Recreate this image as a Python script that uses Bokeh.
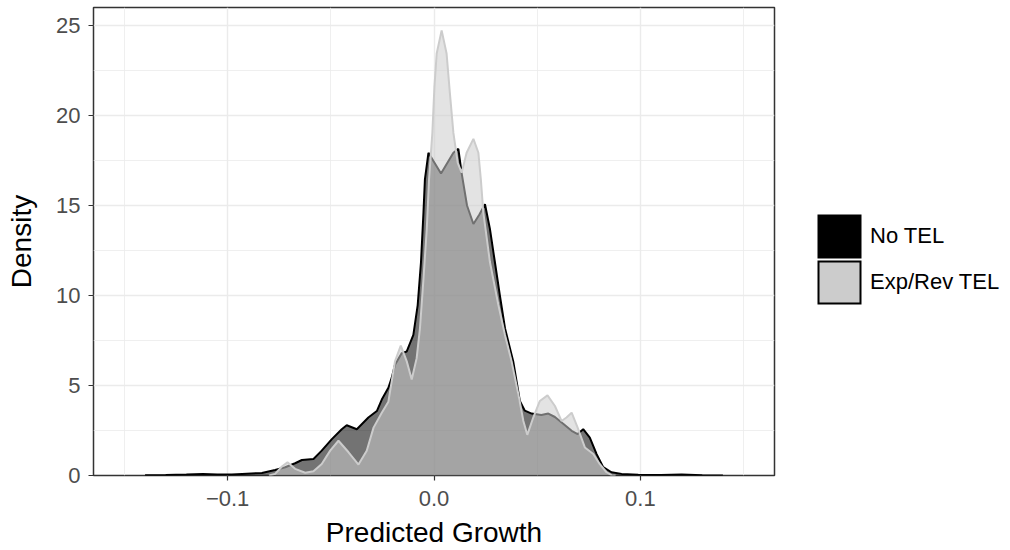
from bokeh.plotting import figure
from bokeh.models import Range1d, FixedTicker, Legend, LegendItem
from bokeh.layouts import row
from bokeh.embed import file_html
from bokeh.resources import INLINE

# ---- data ----
series_names = ["No TEL", "Exp/Rev TEL"]

no_tel_x = [-0.140, -0.130, -0.120, -0.112, -0.105, -0.098, -0.093, -0.0834, -0.077, -0.0721,
            -0.0673, -0.064, -0.0584, -0.0544, -0.0495, -0.0447, -0.0423, -0.0374, -0.0318, -0.0277,
            -0.0253, -0.0221, -0.0205, -0.0189, -0.0156, -0.0132, -0.0100, -0.0079, -0.0063, -0.0051,
            -0.0044, -0.0027, 0.0034, 0.0094, 0.0118, 0.0134, 0.0160, 0.0191, 0.0220, 0.0247,
            0.0271, 0.0295, 0.0319, 0.0344, 0.0384, 0.0416, 0.0440, 0.0473, 0.0520, 0.0554,
            0.0586, 0.0626, 0.0667, 0.0696, 0.0723, 0.0755, 0.0788, 0.0820, 0.0860, 0.0909,
            0.0990, 0.110, 0.120, 0.130, 0.140]
no_tel_y = [0.01, 0.03, 0.06, 0.09, 0.05, 0.06, 0.09, 0.14, 0.31, 0.46,
            0.68, 0.86, 0.92, 1.38, 2.02, 2.57, 2.79, 2.57, 3.22, 3.58,
            4.22, 4.87, 5.42, 6.16, 6.80, 6.89, 7.81, 9.47, 11.86, 14.62,
            16.45, 17.93, 16.78, 17.93, 18.15, 16.80, 15.00, 13.97, 14.50, 15.07,
            13.70, 11.86, 10.02, 8.18, 6.34, 4.14, 3.60, 3.44, 3.36, 3.44,
            3.25, 2.88, 2.48, 2.30, 2.57, 2.11, 1.19, 0.46, 0.18, 0.09,
            0.04, 0.03, 0.05, 0.02, 0.0]

exp_rev_x = [-0.080, -0.077, -0.0737, -0.0710, -0.0673, -0.0624, -0.0584, -0.0544, -0.0503, -0.0463,
             -0.0414, -0.0366, -0.0326, -0.0293, -0.0253, -0.0221, -0.0189, -0.0161, -0.0132, -0.0108,
             -0.0084, -0.0068, -0.0051, -0.0035, -0.0024, -0.0008, 0.0002, 0.0013, 0.0037, 0.0061,
             0.0077, 0.0094, 0.0115, 0.0134, 0.0158, 0.0191, 0.0215, 0.0227, 0.0239, 0.0271,
             0.0312, 0.0344, 0.0376, 0.0409, 0.0433, 0.0452, 0.0481, 0.0513, 0.0550, 0.0586,
             0.0618, 0.0642, 0.0667, 0.0696, 0.0731, 0.0772, 0.0803, 0.0836, 0.0860, 0.0880]
exp_rev_y = [0.0, 0.09, 0.50, 0.73, 0.37, 0.15, 0.24, 0.64, 1.38, 1.93,
             1.29, 0.61, 1.38, 2.66, 3.49, 4.10, 6.34, 7.22, 6.34, 5.33,
             6.52, 8.18, 10.94, 13.70, 16.45, 19.03, 21.60, 23.44, 24.73, 23.44,
             21.24, 19.03, 17.37, 16.82, 17.93, 18.70, 17.93, 16.45, 14.62, 11.86,
             9.47, 7.81, 6.34, 4.50, 3.03, 2.26, 3.22, 4.14, 4.45, 3.86,
             3.03, 3.22, 3.49, 2.66, 1.56, 1.19, 0.64, 0.18, 0.02, 0.0]

x_ticks = [-0.1, 0.0, 0.1]
x_tick_labels = ["\u22120.1", "0.0", "0.1"]
x_minor = [-0.15, -0.05, 0.05, 0.15]
y_ticks = [0, 5, 10, 15, 20, 25]
y_minor = [2.5, 7.5, 12.5, 17.5, 22.5]

FONT = "Liberation Sans"
NAN = float("nan")

p = figure(width=784, height=550, output_backend="svg", toolbar_location=None,
           x_range=Range1d(-0.165, 0.165), y_range=Range1d(0, 26),
           min_border_left=93, min_border_right=10, min_border_top=7, min_border_bottom=72)
p.background_fill_color = "white"
p.border_fill_color = "white"
p.outline_line_color = "#333333"
p.outline_line_width = 1.5

# axes
p.xaxis.ticker = FixedTicker(ticks=x_ticks, minor_ticks=x_minor)
p.yaxis.ticker = FixedTicker(ticks=y_ticks, minor_ticks=y_minor)
p.xaxis.major_label_overrides = {t: l for t, l in zip(x_ticks, x_tick_labels)}
p.yaxis.major_label_overrides = {t: str(t) for t in y_ticks}
for ax in (p.xaxis, p.yaxis):
    ax.axis_line_color = None
    ax.major_tick_line_color = "#333333"
    ax.major_tick_line_width = 1.2
    ax.major_tick_out = 5
    ax.major_tick_in = 0
    ax.minor_tick_line_color = None
    ax.major_label_text_font = FONT
    ax.major_label_text_font_size = "22px"
    ax.major_label_text_color = "#4D4D4D"
    ax.axis_label_text_font = FONT
    ax.axis_label_text_font_size = "28px"
    ax.axis_label_text_font_style = "normal"
    ax.axis_label_text_color = "black"
p.xaxis.axis_label = "Predicted Growth"
p.yaxis.axis_label = "Density"
p.xaxis.major_label_standoff = 10
p.yaxis.major_label_standoff = 8
p.xaxis.axis_label_standoff = 8
p.yaxis.axis_label_standoff = 16

# grid
p.xgrid.grid_line_color = "#EBEBEB"
p.ygrid.grid_line_color = "#EBEBEB"
p.xgrid.grid_line_width = 1.4
p.ygrid.grid_line_width = 1.4
p.xgrid.minor_grid_line_color = "#EBEBEB"
p.ygrid.minor_grid_line_color = "#EBEBEB"
p.xgrid.minor_grid_line_width = 0.8
p.ygrid.minor_grid_line_width = 0.8

# densities
p.varea(x=no_tel_x, y1=[0] * len(no_tel_x), y2=no_tel_y, fill_color="black", fill_alpha=0.55)
p.line(no_tel_x, no_tel_y, line_color="black", line_width=2)
p.varea(x=exp_rev_x, y1=[0] * len(exp_rev_x), y2=exp_rev_y, fill_color="#CCCCCC", fill_alpha=0.55)
p.line(exp_rev_x, exp_rev_y, line_color="#CCCCCC", line_width=2)

# legend in its own narrow figure to the right of the panel
q = figure(width=226, height=550, output_backend="svg", toolbar_location=None,
           x_range=Range1d(0, 1), y_range=Range1d(0, 1),
           x_axis_location=None, y_axis_location=None, min_border=0)
q.grid.visible = False
q.outline_line_color = None
q.background_fill_color = "white"
q.border_fill_color = "white"
# swatches: thick outer stroke enlarges the key; second stroke leaves a thin dark border
k1 = q.quad(left=[NAN], right=[NAN], top=[NAN], bottom=[NAN],
            fill_color="black", line_color="black", line_width=7.2, line_join="miter")
k2a = q.quad(left=[NAN], right=[NAN], top=[NAN], bottom=[NAN],
             fill_color="#CCCCCC", line_color="black", line_width=7.2, line_join="miter")
k2b = q.quad(left=[NAN], right=[NAN], top=[NAN], bottom=[NAN],
             fill_color="#CCCCCC", line_color="#CCCCCC", line_width=3.2, line_join="miter")
legend = Legend(items=[LegendItem(label=series_names[0], renderers=[k1]),
                       LegendItem(label=series_names[1], renderers=[k2a, k2b])],
                location=(32, 170), orientation="vertical",
                glyph_width=46, glyph_height=46, spacing=0,
                label_standoff=8, label_text_font=FONT, label_text_font_size="22px",
                label_text_color="black", label_height=46,
                border_line_color=None, background_fill_alpha=0, padding=0, margin=0)
q.add_layout(legend, "center")

layout = row(p, q, spacing=0)
open("out.html", "w").write(file_html(layout, INLINE))
